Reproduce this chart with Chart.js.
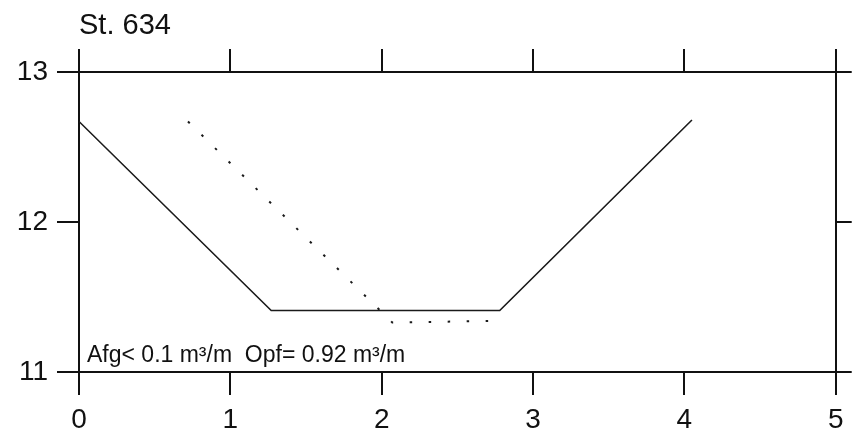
<!DOCTYPE html>
<html>
<head>
<meta charset="utf-8">
<script src="https://cdn.jsdelivr.net/npm/chart.js@4/dist/chart.umd.min.js"></script>
<style>
  html, body { margin: 0; padding: 0; background: #fff; }
  #wrap { width: 852px; height: 436px; }
</style>
</head>
<body>
<div id="wrap"><canvas id="c" width="852" height="436"></canvas></div>
<script>
// ---- data ----
const chartTitle = "St. 634";
const noteText = "Afg< 0.1 m\u00B3/m  Opf= 0.92 m\u00B3/m";
const xRange = [0, 5];
const yRange = [11, 13];
// solid profile (measured)
const profileX = [0, 1.27, 2.78, 4.05];
const profileY = [12.67, 11.41, 11.41, 12.68];
// dotted profile
const dottedX = [0.72, 2.07, 2.71];
const dottedY = [12.67, 11.33, 11.34];

const FONT = "'Liberation Sans', Arial, Helvetica, sans-serif";
const toPts = (xs, ys) => xs.map((x, i) => ({ x: x, y: ys[i] }));

const notePlugin = {
  id: 'note',
  afterDatasetsDraw(chart) {
    const { ctx, chartArea } = chart;
    ctx.save();
    ctx.font = "23px " + FONT;
    ctx.fillStyle = '#111';
    ctx.textAlign = 'left';
    ctx.textBaseline = 'alphabetic';
    ctx.fillText(noteText, chartArea.left + 8, chartArea.bottom - 10);
    ctx.restore();
  }
};

const axisGrid = (len) => ({
  display: true,
  drawOnChartArea: false,
  drawTicks: true,
  tickLength: len,
  color: '#111',
  lineWidth: 2
});
const axisBorder = { display: true, color: '#111', width: 2 };

new Chart(document.getElementById('c'), {
  type: 'scatter',
  data: {
    datasets: [
      {
        data: toPts(profileX, profileY),
        showLine: true,
        borderColor: '#1a1a1a',
        borderWidth: 1.6,
        pointRadius: 0,
        fill: false,
        tension: 0
      },
      {
        data: toPts(dottedX, dottedY),
        showLine: true,
        borderColor: '#1a1a1a',
        borderWidth: 2,
        borderDash: [2.5, 16.5],
        pointRadius: 0,
        fill: false,
        tension: 0
      }
    ]
  },
  options: {
    responsive: false,
    animation: false,
    events: [],
    layout: { padding: 0 },
    plugins: {
      legend: { display: false },
      tooltip: { enabled: false },
      title: {
        display: true,
        text: chartTitle,
        fullSize: false,
        align: 'start',
        color: '#111',
        font: { family: FONT, size: 29, weight: 'normal', lineHeight: 1.2 },
        padding: { top: 8.6, bottom: 5.6 }
      }
    },
    scales: {
      x: {
        type: 'linear', position: 'bottom',
        min: xRange[0], max: xRange[1],
        ticks: { stepSize: 1, color: '#111', padding: 8.5, font: { family: FONT, size: 28 } },
        grid: axisGrid(23),
        border: axisBorder,
        afterFit(s) { s.height = 64; }
      },
      x2: {
        type: 'linear', position: 'top',
        min: xRange[0], max: xRange[1],
        ticks: { stepSize: 1, display: false },
        grid: axisGrid(23),
        border: axisBorder,
        afterFit(s) { s.height = 23; }
      },
      y: {
        type: 'linear', position: 'left',
        min: yRange[0], max: yRange[1],
        ticks: { stepSize: 1, color: '#111', padding: 9, font: { family: FONT, size: 28 } },
        grid: axisGrid(22),
        border: axisBorder,
        afterFit(s) { s.width = 79; }
      },
      y2: {
        type: 'linear', position: 'right',
        min: yRange[0], max: yRange[1],
        ticks: { stepSize: 1, display: false },
        grid: axisGrid(16),
        border: axisBorder,
        afterFit(s) { s.width = 16; }
      }
    }
  },
  plugins: [notePlugin]
});
</script>
</body>
</html>
